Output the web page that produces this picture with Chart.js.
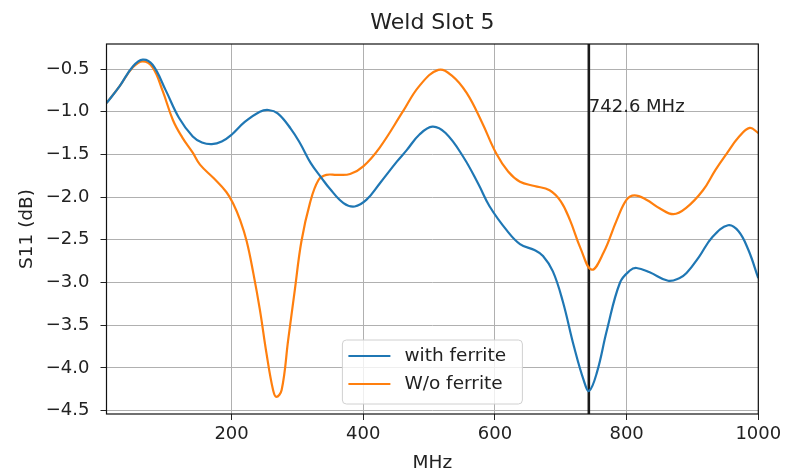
<!DOCTYPE html>
<html>
<head>
<meta charset="utf-8">
<title>Weld Slot 5</title>
<script src="https://cdn.jsdelivr.net/npm/chart.js@4.4.1/dist/chart.umd.min.js"></script>
<style>
  html, body { margin: 0; padding: 0; background: #fff; }
  #wrap { width: 786px; height: 473px; }
</style>
</head>
<body>
<div id="wrap"><canvas id="line-chartcanvas" width="786" height="473"></canvas></div>
<script>
// S11 sweep, with ferrite
var freqWith = [10, 30, 50, 65, 80, 100, 120, 141, 155, 170, 185, 200, 220, 243, 256, 270, 290, 304, 320, 337, 349, 370, 387, 405, 425, 451, 466, 485, 505, 525, 552, 575, 592, 618, 638, 660, 673, 688, 703, 720, 735, 743, 755, 770, 790, 805, 815, 835, 863, 880, 891, 910, 930, 954, 970, 985, 1000];
var s11With = [-0.90, -0.70, -0.47, -0.39, -0.45, -0.75, -1.07, -1.29, -1.36, -1.38, -1.35, -1.27, -1.12, -1.00, -0.98, -1.02, -1.20, -1.37, -1.60, -1.78, -1.90, -2.07, -2.11, -2.03, -1.84, -1.585, -1.45, -1.27, -1.175, -1.25, -1.53, -1.85, -2.11, -2.39, -2.55, -2.62, -2.69, -2.87, -3.22, -3.75, -4.15, -4.27, -4.05, -3.56, -3.00, -2.86, -2.83, -2.88, -2.98, -2.95, -2.89, -2.70, -2.47, -2.33, -2.40, -2.62, -2.95];

// S11 sweep, without ferrite
var freqWithout = [10, 30, 50, 65, 80, 95, 111, 125, 141, 152, 173, 192, 202, 213, 223, 233, 243, 253, 263, 268, 276, 286, 296, 306, 319, 332, 344, 360, 380, 400, 425, 460, 485, 514, 535, 557, 580, 602, 620, 638, 660, 683, 700, 714, 730, 747, 765, 785, 800, 812, 830, 850, 871, 890, 916, 935, 952, 970, 987, 1000];
var s11Without = [-0.90, -0.70, -0.48, -0.41, -0.48, -0.75, -1.10, -1.30, -1.48, -1.62, -1.78, -1.94, -2.07, -2.27, -2.52, -2.89, -3.32, -3.83, -4.26, -4.34, -4.26, -3.67, -3.09, -2.52, -2.07, -1.80, -1.74, -1.74, -1.73, -1.64, -1.42, -1.00, -0.70, -0.51, -0.58, -0.78, -1.12, -1.49, -1.70, -1.82, -1.87, -1.92, -2.05, -2.27, -2.60, -2.85, -2.65, -2.27, -2.03, -1.98, -2.03, -2.13, -2.20, -2.13, -1.92, -1.68, -1.49, -1.30, -1.19, -1.25];

var seriesLabels = ["with ferrite", "W/o ferrite"];
var markerFreq = 742.6;
var markerLabel = "742.6 MHz";
var markerLabelY = -1.0;

var xTicks = [200, 400, 600, 800, 1000];
var yTicks = [-4.5, -4.0, -3.5, -3.0, -2.5, -2.0, -1.5, -1.0, -0.5];
var xRange = [10, 1000];
var yRange = [-4.54, -0.207];

var BLUE = "#1f77b4";
var ORANGE = "#ff7f0e";
var TEXT = "#222";

Chart.defaults.font.family = "'DejaVu Sans', sans-serif";
Chart.defaults.color = TEXT;

function pairs(xs, ys) {
	var out = [];
	for (var i = 0; i < xs.length; i++) {
		out.push({ x: xs[i], y: ys[i] });
	}
	return out;
}

function minusLabel(v) {
	return (v < 0 ? "\u2212" : "") + Math.abs(v).toFixed(1);
}

// title, axis labels, frame, marker text and legend box
var decorations = {
	id: "decorations",
	afterDatasetsDraw: function(chart) {
		var ctx = chart.ctx;
		var a = chart.chartArea;
		ctx.save();
		ctx.strokeStyle = "#111";
		ctx.lineWidth = 1.2;
		ctx.strokeRect(a.left, a.top, a.right - a.left, a.bottom - a.top);

		var px = chart.scales.x.getPixelForValue(markerFreq);
		var py = chart.scales.y.getPixelForValue(markerLabelY);
		ctx.fillStyle = TEXT;
		ctx.font = "18px 'DejaVu Sans'";
		ctx.textAlign = "left";
		ctx.textBaseline = "alphabetic";
		ctx.fillText(markerLabel, px, py);
		ctx.restore();
	},
	afterDraw: function(chart) {
		var ctx = chart.ctx;
		var a = chart.chartArea;
		var cx = (a.left + a.right) / 2;
		ctx.save();
		ctx.fillStyle = TEXT;
		ctx.textAlign = "center";
		ctx.textBaseline = "alphabetic";

		ctx.font = "22px 'DejaVu Sans'";
		ctx.fillText("Weld Slot 5", cx, 29);

		ctx.font = "18.5px 'DejaVu Sans'";
		ctx.fillText("MHz", cx, 468);

		ctx.save();
		ctx.translate(32, (a.top + a.bottom) / 2);
		ctx.rotate(-Math.PI / 2);
		ctx.fillText("S11 (dB)", 0, 0);
		ctx.restore();

		// legend, lower centre
		var w = 180, h = 64;
		var lx = cx - w / 2, ly = a.bottom - 10 - h;
		ctx.beginPath();
		ctx.roundRect(lx, ly, w, h, 4);
		ctx.fillStyle = "rgba(255,255,255,0.8)";
		ctx.fill();
		ctx.strokeStyle = "#d0d0d0";
		ctx.lineWidth = 1;
		ctx.stroke();

		var colors = [BLUE, ORANGE];
		ctx.font = "18.5px 'DejaVu Sans'";
		ctx.textAlign = "left";
		ctx.textBaseline = "middle";
		for (var i = 0; i < seriesLabels.length; i++) {
			var ry = ly + 16 + i * 28;
			ctx.beginPath();
			ctx.moveTo(lx + 6, ry);
			ctx.lineTo(lx + 48, ry);
			ctx.strokeStyle = colors[i];
			ctx.lineWidth = 2.2;
			ctx.stroke();
			ctx.fillStyle = TEXT;
			ctx.fillText(seriesLabels[i], lx + 62, ry);
		}
		ctx.restore();
	}
};

var ctx = document.getElementById("line-chartcanvas");

var data = {
	datasets: [
	{
		label: seriesLabels[0],
		data: pairs(freqWith, s11With),
		borderColor: BLUE,
		borderWidth: 2.2,
		pointRadius: 0,
		fill: false,
		tension: 0.4
	},
	{
		label: seriesLabels[1],
		data: pairs(freqWithout, s11Without),
		borderColor: ORANGE,
		borderWidth: 2.2,
		pointRadius: 0,
		fill: false,
		tension: 0.4
	},
	{
		label: markerLabel,
		data: [{ x: markerFreq, y: yRange[0] }, { x: markerFreq, y: yRange[1] }],
		borderColor: "#1a1a1a",
		borderWidth: 2.6,
		pointRadius: 0,
		fill: false
	}
	]
};

var options = {
	responsive: false,
	animation: false,
	layout: {
		padding: { top: 44, right: 27.7, bottom: 0, left: 0 }
	},
	plugins: {
		legend: { display: false },
		title: { display: false },
		tooltip: { enabled: false }
	},
	scales: {
		x: {
			type: "linear",
			min: xRange[0],
			max: xRange[1],
			afterFit: function(s) { s.height = 59; },
			afterBuildTicks: function(s) {
				s.ticks = xTicks.map(function(v) { return { value: v }; });
			},
			border: { display: false },
			grid: { color: "#b0b0b0", lineWidth: 1, tickLength: 6, tickColor: "#222" },
			ticks: {
				font: { size: 18 },
				color: TEXT,
				padding: 4,
				maxRotation: 0,
				callback: function(v) { return String(v); }
			}
		},
		y: {
			type: "linear",
			min: yRange[0],
			max: yRange[1],
			afterFit: function(s) { s.width = 106.5; },
			afterBuildTicks: function(s) {
				s.ticks = yTicks.map(function(v) { return { value: v }; });
			},
			border: { display: false },
			grid: { color: "#b0b0b0", lineWidth: 1, tickLength: 6, tickColor: "#222" },
			ticks: {
				font: { size: 18 },
				color: TEXT,
				padding: 11,
				callback: minusLabel
			}
		}
	}
};

var chart = new Chart(ctx, {
	type: "line",
	data: data,
	options: options,
	plugins: [decorations]
});
</script>
</body>
</html>
